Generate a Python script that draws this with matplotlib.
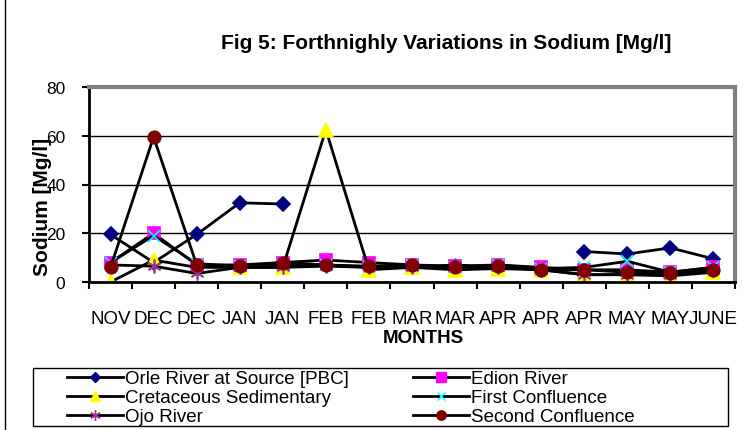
import numpy as np
import matplotlib
matplotlib.use("Agg")
from matplotlib import pyplot as plt
from matplotlib.lines import Line2D
from matplotlib.patches import Rectangle

plt.rcParams['font.family'] = ['Liberation Sans', 'DejaVu Sans']

months = ["NOV", "DEC", "DEC", "JAN", "JAN", "FEB", "FEB", "MAR", "MAR",
          "APR", "APR", "APR", "MAY", "MAY", "JUNE"]

nan = np.nan
orle = [19.5, 8, 19.5, 32.5, 32, nan, nan, nan, nan, nan, nan, 12.5, 11.5, 14, 9.5]
edion = [8, 20, 7, 7, 8, 9, 8, 7, 6.5, 7, 6, 5, 5, 4, 6]
cretaceous = [0, 9, 6, 6, 6, 62.5, 5, 6, 5, 5.5, 5, 3, 3, 2.5, 4]
first_conf = [8, 19, 7.5, 6.5, 7, 7, 6, 7, 6, 7, 5.5, 6, 8.5, 4, 6]
ojo = [7, 6.5, 3.5, 6, 6, 6.5, 6, 6, 7, 6, 5, 3, 3, 3, 5]
second_conf = [6, 59.5, 7, 6.5, 8, 7, 6.5, 7, 6, 6.5, 5, 5, 4, 3.5, 5]

series = [
    ("Orle River at Source [PBC]", orle, dict(marker="D", color="#000080", ms=7)),
    ("Edion River", edion, dict(marker="s", color="#FF00FF", ms=9)),
    ("Cretaceous Sedimentary", cretaceous, dict(marker="^", color="#FFFF00", ms=10)),
    ("First Confluence", first_conf, dict(marker="x", color="#00FFFF", ms=8)),
    ("Ojo River", ojo, dict(marker=(6, 2, 0), color="#993399", ms=10)),
    ("Second Confluence", second_conf, dict(marker="o", color="#800000", ms=9)),
]

fig = plt.figure(figsize=(7.47, 4.31), dpi=100)
ax = fig.add_axes([89 / 747, 1 - 283 / 431, 646 / 747, 195 / 431])

x = np.arange(len(months))
handles = {}
for name, vals, st in series:
    ax.plot(x, vals, color="black", lw=2, marker=st["marker"], ms=st["ms"],
            markerfacecolor=st["color"], markeredgecolor=st["color"], mew=1.2)
    handles[name] = Line2D([], [], color="black", lw=2, marker=st["marker"],
                           ms=st["ms"] * 0.75, markerfacecolor=st["color"],
                           markeredgecolor=st["color"], label=name)

ax.set_xlim(-0.5, len(months) - 0.5)
ax.set_ylim(0, 80)
ax.set_yticks([0, 20, 40, 60, 80])
ax.tick_params(axis="y", labelsize=12.5, length=5, width=1.5, direction="out", pad=12)
ax.set_xticks(x)
ax.set_xticklabels(months, fontsize=13.5)
ax.set_xticks(np.arange(-0.5, len(months)), minor=True)
ax.tick_params(axis="x", which="major", length=0, pad=20)
ax.tick_params(axis="x", which="minor", length=5, width=1.5, direction="out")
for yv in (20, 40, 60):
    ax.axhline(yv, color="black", lw=1, zorder=0)

ax.spines["left"].set_linewidth(2)
ax.spines["bottom"].set_linewidth(2)
ax.spines["top"].set_color("#808080")
ax.spines["top"].set_linewidth(3)
ax.spines["right"].set_color("#808080")
ax.spines["right"].set_linewidth(3)

fig.text(446 / 747, 1 - 44 / 431, "Fig 5: Forthnighly Variations in Sodium [Mg/l]",
         ha="center", va="center", fontsize=15, fontweight="bold")
fig.text(423 / 747, 1 - 339 / 431, "MONTHS", ha="center", va="center",
         fontsize=13.5, fontweight="bold")
fig.text(43 / 747, 1 - 207 / 431, "Sodium [Mg/l]", ha="center", va="center",
         rotation=90, fontsize=15, fontweight="bold")

# chart border on the left
fig.add_artist(Line2D([5 / 747, 5 / 747], [0, 1], color="black", lw=1))

# legend box
fig.add_artist(Rectangle((33 / 747, 1 - 427 / 431), 695 / 747, 58 / 431,
                         transform=fig.transFigure, fill=False,
                         edgecolor="black", lw=1))
order = ["Orle River at Source [PBC]", "Cretaceous Sedimentary", "Ojo River",
         "Edion River", "First Confluence", "Second Confluence"]
leg = fig.legend(handles=[handles[n] for n in order], ncol=2, loc="upper left",
                 bbox_to_anchor=(67 / 747, 1 - 371 / 431), fontsize=13.5,
                 frameon=False, handlelength=3, handletextpad=0.1,
                 columnspacing=3.4, labelspacing=0.1, borderpad=0,
                 borderaxespad=0)

fig.savefig("out.png", dpi=100)
